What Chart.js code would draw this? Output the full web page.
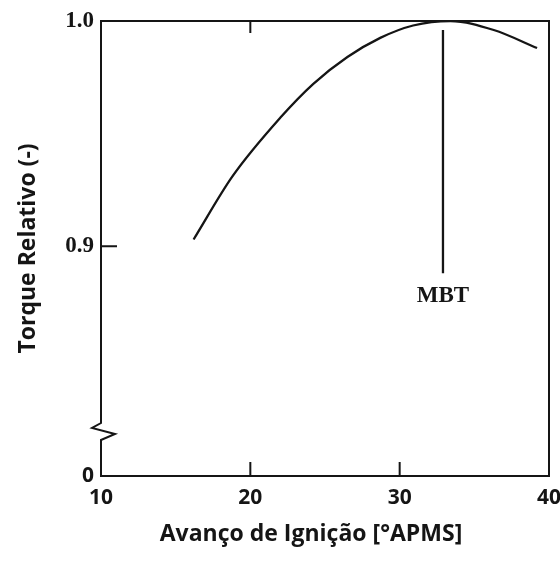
<!DOCTYPE html>
<html>
<head>
<meta charset="utf-8">
<script src="https://cdn.jsdelivr.net/npm/chart.js@4.4.1/dist/chart.umd.min.js"></script>
<style>
  html, body { margin: 0; padding: 0; background: #ffffff; }
  #wrap { width: 560px; height: 561px; }
</style>
</head>
<body>
<div id="wrap"><canvas id="c" width="560" height="561"></canvas></div>
<script>
// ---- data ----
const advance = [16.2, 18.8, 22.0, 24.2, 26.5, 28.7, 30.9, 33.4, 36.3, 39.2];
const torque  = [0.903, 0.931, 0.957, 0.972, 0.984, 0.9925, 0.998, 1.000, 0.996, 0.988];
const mbtAdvance = [32.9, 32.9];
const mbtTorque  = [0.996, 0.888];
const mbtLabel = 'MBT';
const mbtLabelAt = [32.9, 0.878];
const xTicks = [10, 20, 30, 40];
const yTickValues = [0.798, 0.9, 1.0];
const yTickLabels = ['0', '0.9', '1.0'];
const xTitle = 'Avanço de Ignição [°APMS]';
const yTitle = 'Torque Relativo (-)';

const INK = '#151515';
const SANS = '"Open Sans", "Noto Sans", sans-serif';
const SERIF = '"Liberation Serif", "DejaVu Serif", serif';
const serifBold = { family: SERIF, weight: 'bold', size: 23 };
const sansBold = { family: SANS, weight: 'bold', size: 21 };

const framePlugin = {
  id: 'frame',
  afterDatasetsDraw(chart) {
    const { ctx, chartArea: a, scales: { x, y } } = chart;
    ctx.save();
    ctx.strokeStyle = INK;
    ctx.lineWidth = 2;
    ctx.lineCap = 'square';
    ctx.lineJoin = 'miter';
    ctx.beginPath();
    ctx.moveTo(a.left, a.top);
    ctx.lineTo(a.right, a.top);
    ctx.lineTo(a.right, a.bottom);
    ctx.lineTo(a.left, a.bottom);
    ctx.stroke();
    // left axis with break symbol
    ctx.beginPath();
    ctx.moveTo(a.left, a.top);
    ctx.lineTo(a.left, a.bottom - 53);
    ctx.lineTo(a.left - 9, a.bottom - 48);
    ctx.lineTo(a.left + 14, a.bottom - 42);
    ctx.lineTo(a.left, a.bottom - 36);
    ctx.lineTo(a.left, a.bottom);
    ctx.stroke();
    // inward tick marks
    ctx.beginPath();
    const y09 = y.getPixelForValue(0.9);
    ctx.moveTo(a.left, y09); ctx.lineTo(a.left + 15, y09);
    [20, 30].forEach(v => {
      const px = x.getPixelForValue(v);
      ctx.moveTo(px, a.bottom); ctx.lineTo(px, a.bottom - 13);
    });
    const p20 = x.getPixelForValue(20);
    ctx.moveTo(p20, a.top); ctx.lineTo(p20, a.top + 11);
    ctx.stroke();
    // MBT label
    ctx.fillStyle = INK;
    ctx.font = 'bold 23px ' + SERIF;
    ctx.textAlign = 'center';
    ctx.textBaseline = 'middle';
    ctx.fillText(mbtLabel, x.getPixelForValue(mbtLabelAt[0]), y.getPixelForValue(mbtLabelAt[1]));
    // x axis title
    ctx.font = 'bold 23px ' + SANS;
    ctx.fillText(xTitle, a.left + 210, a.bottom + 58);
    ctx.restore();
  }
};

new Chart(document.getElementById('c'), {
  type: 'line',
  data: {
    datasets: [
      {
        data: advance.map((v, i) => ({ x: v, y: torque[i] })),
        borderColor: INK,
        borderWidth: 2.3,
        pointRadius: 0,
        fill: false,
        cubicInterpolationMode: 'monotone'
      },
      {
        data: mbtAdvance.map((v, i) => ({ x: v, y: mbtTorque[i] })),
        borderColor: INK,
        borderWidth: 2.3,
        pointRadius: 0,
        fill: false
      }
    ]
  },
  options: {
    responsive: false,
    animation: false,
    devicePixelRatio: 1,
    layout: { padding: { top: 21, right: 11, left: 0, bottom: 0 } },
    plugins: { legend: { display: false }, tooltip: { enabled: false } },
    scales: {
      x: {
        type: 'linear',
        min: 10, max: 40,
        afterBuildTicks: s => { s.ticks = xTicks.map(v => ({ value: v })); },
        afterFit: s => { s.height = 85; s.paddingLeft = 0; s.paddingRight = 0; },
        grid: { display: false, drawTicks: false },
        border: { display: false },
        ticks: { color: INK, font: sansBold, padding: 9, maxRotation: 0, autoSkip: false,
                 callback: v => String(v) }
      },
      y: {
        type: 'linear',
        min: yTickValues[0], max: 1.0,
        afterBuildTicks: s => { s.ticks = yTickValues.map(v => ({ value: v })); },
        afterFit: s => { s.width = 101; s.paddingTop = 0; s.paddingBottom = 0; },
        grid: { display: false, drawTicks: false },
        border: { display: false },
        ticks: {
          color: INK, padding: 7, autoSkip: false,
          font: ctx => (ctx.index === 0 ? sansBold : serifBold),
          callback: (v, i) => yTickLabels[i]
        },
        title: { display: true, text: yTitle, color: INK,
                 font: { family: SANS, weight: 'bold', size: 23 },
                 padding: { top: 15, bottom: 0 } }
      }
    }
  },
  plugins: [framePlugin]
});
</script>
</body>
</html>
